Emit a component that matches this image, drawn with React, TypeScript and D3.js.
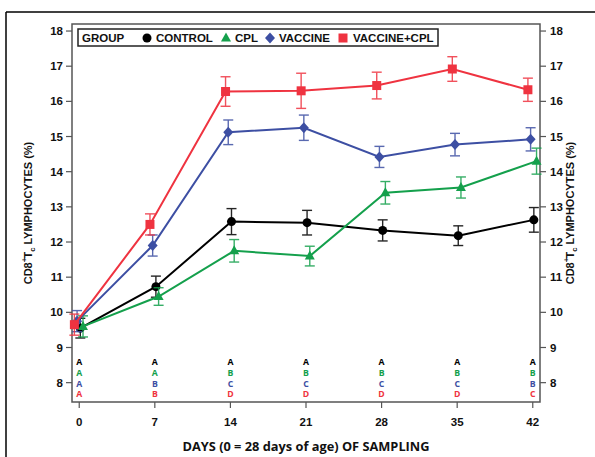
import React from "react";
import * as d3 from "d3";

const days = [0, 7, 14, 21, 28, 35, 42];
const yTicks = [8, 9, 10, 11, 12, 13, 14, 15, 16, 17, 18];

const groupNames = ["CONTROL", "CPL", "VACCINE", "VACCINE+CPL"];
const controlMean = [9.55, 10.73, 12.58, 12.55, 12.33, 12.18, 12.63];
const controlErr = [0.28, 0.3, 0.37, 0.35, 0.3, 0.28, 0.35];
const cplMean = [9.6, 10.45, 11.75, 11.6, 13.4, 13.55, 14.3];
const cplErr = [0.3, 0.25, 0.32, 0.28, 0.32, 0.3, 0.37];
const vaccineMean = [9.75, 11.9, 15.12, 15.25, 14.42, 14.77, 14.92];
const vaccineErr = [0.3, 0.3, 0.35, 0.36, 0.3, 0.32, 0.33];
const vcplMean = [9.65, 12.5, 16.28, 16.3, 16.45, 16.92, 16.33];
const vcplErr = [0.3, 0.3, 0.42, 0.5, 0.38, 0.35, 0.33];

const controlLetters = ["A", "A", "A", "A", "A", "A", "A"];
const cplLetters = ["A", "A", "B", "B", "B", "B", "B"];
const vaccineLetters = ["A", "B", "C", "C", "C", "C", "B"];
const vcplLetters = ["A", "B", "D", "D", "D", "D", "C"];

const W = 595, H = 457;
const L = 72, R = 540, T = 24, B = 402;

const COLORS = ["#000000", "#14a04c", "#3d4fa3", "#ef3340"];
const OFFSETS = [0.1, 0.35, -0.2, -0.45];
const SHAPES = ["circle", "triangle", "diamond", "square"];

function Marker({ shape, x, y, color }: { shape: string; x: number; y: number; color: string }) {
  if (shape === "circle") return <circle cx={x} cy={y} r={4.5} fill={color} />;
  if (shape === "square") return <rect x={x - 4.5} y={y - 4.5} width={9} height={9} fill={color} />;
  if (shape === "diamond")
    return <path d={`M${x},${y - 5.5}L${x + 5},${y}L${x},${y + 5.5}L${x - 5},${y}Z`} fill={color} />;
  return <path d={`M${x},${y - 5.5}L${x + 5},${y + 3.5}L${x - 5},${y + 3.5}Z`} fill={color} />;
}

export default function App() {
  const x = d3.scaleLinear().domain([-0.67, 42.67]).range([L, R]);
  const y = d3.scaleLinear().domain([7.45, 18.2]).range([B, T]);
  const means = [controlMean, cplMean, vaccineMean, vcplMean];
  const errs = [controlErr, cplErr, vaccineErr, vcplErr];
  const letters = [controlLetters, cplLetters, vaccineLetters, vcplLetters];
  const line = d3.line<[number, number]>().x((d) => d[0]).y((d) => d[1]);
  const axisColor = "#555";
  const tickFont = "'Liberation Sans', Arial, sans-serif";
  const letterRows = [-20.6, -9.9, 0.8, 11.5];

  const legendItems = [
    { name: groupNames[0], mx: 147, tx: 156 },
    { name: groupNames[1], mx: 226, tx: 235 },
    { name: groupNames[2], mx: 270, tx: 279 },
    { name: groupNames[3], mx: 343, tx: 353 },
  ];

  return (
    <svg width={W} height={H} style={{ position: "absolute", left: 0, top: 0, background: "#fff" }}>
      <rect x={0} y={0} width={W} height={H} fill="#fff" />
      {/* outer border */}
      <line x1={6} y1={12} x2={W} y2={12} stroke="#000" strokeWidth={1.5} />
      <line x1={6} y1={12} x2={6} y2={H} stroke="#000" strokeWidth={1.5} />
      {/* plot frame */}
      <rect x={L} y={T} width={R - L} height={B - T} fill="none" stroke={axisColor} strokeWidth={1.5} />

      {/* y ticks left and right */}
      {yTicks.map((t) => (
        <g key={t}>
          <line x1={L - 6} x2={L} y1={y(t)} y2={y(t)} stroke={axisColor} strokeWidth={1.2} />
          <text x={L - 9} y={y(t)} dy="0.35em" textAnchor="end" fontFamily={tickFont} fontWeight="bold" fontSize={11.5} fill="#111">
            {t}
          </text>
          <line x1={R} x2={R + 6} y1={y(t)} y2={y(t)} stroke={axisColor} strokeWidth={1.2} />
          <text x={R + 10} y={y(t)} dy="0.35em" textAnchor="start" fontFamily={tickFont} fontWeight="bold" fontSize={11.5} fill="#111">
            {t}
          </text>
        </g>
      ))}
      {/* x ticks */}
      {days.map((d) => (
        <g key={d}>
          <line x1={x(d)} x2={x(d)} y1={B} y2={B + 6} stroke={axisColor} strokeWidth={1.2} />
          <text x={x(d)} y={B + 20} dy="0.35em" textAnchor="middle" fontFamily={tickFont} fontWeight="bold" fontSize={11.5} fill="#111">
            {d}
          </text>
        </g>
      ))}

      {/* axis titles */}
      <text x={306} y={451} textAnchor="middle" fontFamily="'Open Sans', sans-serif" fontWeight="bold" fontSize={12.8} fill="#111">
        DAYS (0 = 28 days of age) OF SAMPLING
      </text>
      {[28, 570].map((cx) => (
        <text key={cx} transform={`translate(${cx},${(T + B) / 2}) rotate(-90)`} textAnchor="middle" fontFamily={tickFont} fontWeight="bold" fontSize={11} fill="#111" dy="0.35em">
          CD8<tspan dy="-5" fontSize={8}>+</tspan>
          <tspan dy="5" dx="-1">T</tspan>
          <tspan dy="3" fontSize={7.5}>c</tspan>
          <tspan dy="-3"> LYMPHOCYTES (%)</tspan>
        </text>
      ))}

      {/* letters */}
      {letters.map((row, gi) =>
        row.map((l, di) => (
          <text key={`${gi}-${di}`} x={x(days[di])} y={y(8) + letterRows[gi]} dy="0.35em" textAnchor="middle" fontFamily="'Open Sans', sans-serif" fontWeight="bold" fontSize={8.7} fill={COLORS[gi]}>
            {l}
          </text>
        ))
      )}

      {/* series */}
      {means.map((m, gi) => {
        const pts: [number, number][] = m.map((v, di) => [x(days[di] + OFFSETS[gi]), y(v)]);
        return (
          <g key={gi}>
            {m.map((v, di) => {
              const px = x(days[di] + OFFSETS[gi]);
              const e = errs[gi][di];
              return (
                <g key={di} stroke={COLORS[gi]} strokeWidth={1.4} opacity={0.85}>
                  <line x1={px} x2={px} y1={y(v - e)} y2={y(v + e)} />
                  <line x1={px - 5} x2={px + 5} y1={y(v - e)} y2={y(v - e)} />
                  <line x1={px - 5} x2={px + 5} y1={y(v + e)} y2={y(v + e)} />
                </g>
              );
            })}
            <path d={line(pts) || ""} fill="none" stroke={COLORS[gi]} strokeWidth={2} />
            {pts.map((p, di) => (
              <Marker key={di} shape={SHAPES[gi]} x={p[0]} y={p[1]} color={COLORS[gi]} />
            ))}
          </g>
        );
      })}

      {/* legend */}
      <rect x={78} y={29} width={360} height={17} fill="#fff" stroke="#222" strokeWidth={1.5} />
      <text x={82} y={38} dy="0.35em" fontFamily={tickFont} fontWeight="bold" fontSize={11.5} fill="#111">
        GROUP
      </text>
      {legendItems.map((it, i) => (
        <g key={it.name}>
          <Marker shape={SHAPES[i]} x={it.mx} y={38} color={COLORS[i]} />
          <text x={it.tx} y={38} dy="0.35em" fontFamily={tickFont} fontWeight="bold" fontSize={11.5} fill="#111">
            {it.name}
          </text>
        </g>
      ))}
    </svg>
  );
}
